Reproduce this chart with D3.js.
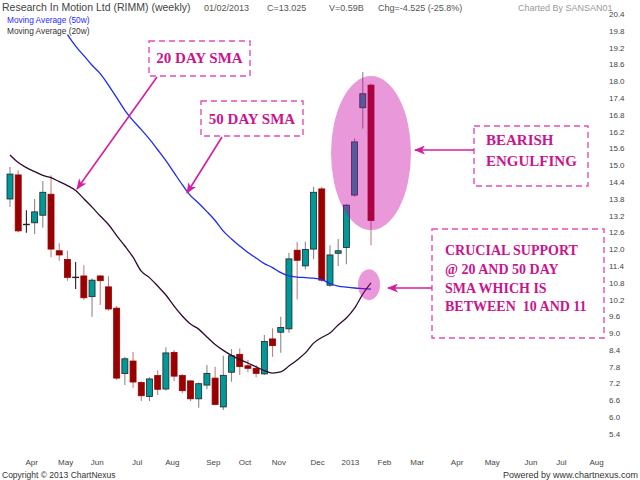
<!DOCTYPE html>
<html><head><meta charset="utf-8">
<script src="https://cdn.jsdelivr.net/npm/d3@7"></script>
<style>body{margin:0;background:#fff}svg{display:block}</style>
</head><body>
<svg id="c" width="640" height="480"></svg>
<script>
// ---- data (weekly RIMM) ----
const opens  = [13.79,14.65,12.87,12.94,13.21,13.96,11.94,11.63,10.98,11.04,10.30,11.04,10.65,9.89,7.55,8.00,7.23,6.73,7.48,7.00,8.31,7.48,7.29,6.65,7.14,7.39,6.36,7.60,8.24,7.83,7.74,7.54,8.79,9.03,9.15,11.96,11.40,12.00,14.15,10.71,11.85,12.06,13.93,17.05,17.86];
const highs  = [14.93,14.82,13.39,13.79,14.43,14.64,12.21,11.94,11.54,11.42,10.96,11.07,11.03,9.97,8.15,8.32,7.28,7.42,7.67,8.49,8.39,7.54,7.32,7.23,7.86,7.80,8.19,8.43,8.45,8.04,7.86,8.93,9.17,9.58,11.87,12.26,12.26,14.23,14.23,12.14,12.36,13.61,15.95,18.33,17.92];
const lows   = [13.50,12.60,12.58,12.54,12.76,11.71,11.58,10.87,10.57,10.18,9.58,10.00,9.80,7.32,7.14,7.04,6.57,6.57,6.79,6.95,7.29,6.85,6.57,6.33,6.99,6.42,6.25,7.26,7.50,7.60,7.42,7.50,8.15,8.30,9.01,10.20,11.27,11.64,10.83,10.65,11.40,11.46,13.87,16.31,12.14];
const closes = [14.68,12.65,12.89,13.33,14.03,12.00,11.79,10.99,11.00,10.26,10.89,10.87,9.86,7.39,8.08,7.25,6.76,7.36,6.99,8.29,7.46,6.94,6.65,7.19,7.56,6.45,7.49,8.19,7.80,7.74,7.56,8.70,8.55,9.20,11.65,11.60,11.99,14.03,10.89,11.79,11.94,13.57,15.83,17.55,13.025];
const sma20  = [15.36,15.09,14.91,14.77,14.63,14.55,14.41,14.27,14.09,13.80,13.50,13.18,12.88,12.48,12.11,11.71,11.21,10.98,10.68,10.36,9.96,9.61,9.32,9.14,8.86,8.59,8.38,8.20,8.05,7.93,7.79,7.66,7.57,7.61,7.82,8.04,8.29,8.64,8.84,9.00,9.29,9.54,9.89,10.39,10.79];
const sma50  = [null,null,null,null,null,null,null,19.66,19.25,18.91,18.57,18.27,17.86,17.41,16.96,16.59,16.27,15.93,15.55,15.16,14.73,14.30,13.91,13.64,13.34,13.02,12.64,12.36,12.11,11.88,11.68,11.48,11.34,11.16,11.04,11.00,10.98,10.96,10.91,10.77,10.68,10.64,10.61,10.59,10.57];
const tickLabels = ["Apr","May","Jun","Jul","Aug","Sep","Oct","Nov","Dec","2013","Feb","Mar","Apr","May","Jun","Jul","Aug"];
const tickDateStr = ["2012-04-17","2012-05-16","2012-06-12","2012-07-16","2012-08-15","2012-09-19","2012-10-16","2012-11-14","2012-12-17","2013-01-14","2013-02-12","2013-03-12","2013-04-15","2013-05-15","2013-06-17","2013-07-13","2013-08-12"];
const yTicks = [5.4,6.0,6.6,7.2,7.8,8.4,9.0,9.6,10.2,10.8,11.4,12.0,12.6,13.2,13.8,14.4,15.0,15.6,16.2,16.8,17.4,18.0,18.6,19.2,19.8,20.4];

const weeks = d3.timeFriday.range(new Date(2012,2,30), new Date(2013,1,2));
const parse = d3.timeParse("%Y-%m-%d");
const tickDates = tickDateStr.map(parse);
const candles = weeks.map((d,i)=>({d, o:opens[i], h:highs[i], l:lows[i], c:closes[i]}));

const svg = d3.select("#c");
const x = d3.scaleTime().domain([weeks[0], weeks[weeks.length-1]]).range([10, 371]);
const y = d3.scaleLinear().domain([5.4, 20.4]).range([433.8, 14]);

const TEAL="#009999", RED="#990000", MAG="#c8158e", DASH="#e050b8", ARROW="#d41ea2";

// axes
const ya = svg.append("g").attr("transform","translate(607,0)")
  .call(d3.axisRight(y).tickValues(yTicks).tickFormat(d3.format(".1f")).tickSize(0).tickPadding(2));
ya.select(".domain").remove();
ya.selectAll("text").attr("font-family","Liberation Sans, Arial").attr("font-size","8px").attr("fill","#444");

const xa = svg.append("g").attr("transform","translate(0,456)")
  .call(d3.axisBottom(x).tickValues(tickDates).tickFormat((d,i)=>tickLabels[i]).tickSize(0).tickPadding(3));
xa.select(".domain").remove();
xa.selectAll("text").attr("font-family","Liberation Sans, Arial").attr("font-size","8px").attr("fill","#444");

// candles
const cg = svg.append("g");
const isDoji = d => Math.abs(d.c-d.o) < 0.05;
cg.selectAll("line.w").data(candles).join("line")
  .attr("x1",d=>x(d.d)).attr("x2",d=>x(d.d))
  .attr("y1",d=>y(d.h)).attr("y2",d=>y(d.l))
  .attr("stroke",d=> isDoji(d) ? "#222" : (d.c>=d.o ? "#8a8a8a" : "#c48080"))
  .attr("stroke-width",1.1);
cg.selectAll("rect.b").data(candles).join("rect")
  .attr("x",d=>x(d.d)-3).attr("width",6)
  .attr("y",d=>y(Math.max(d.o,d.c)))
  .attr("height",d=>Math.max(Math.abs(y(d.o)-y(d.c)),0.6))
  .attr("fill",d=>d.c>=d.o ? TEAL : RED)
  .attr("stroke",d=>d.c>=d.o ? "#222" : RED)
  .attr("stroke-width",0.8);

// moving averages
const line = d3.line().defined(v=>v!=null).x((v,i)=>x(weeks[i])).y(v=>y(v)).curve(d3.curveMonotoneX);
svg.append("path").attr("d",line(sma50)).attr("fill","none").attr("stroke","#1a2cf0").attr("stroke-width",1.3);
svg.append("path").attr("d",line(sma20)).attr("fill","none").attr("stroke","#2e0a30").attr("stroke-width",1.3);

// highlight ellipses
svg.append("ellipse").attr("cx",x(weeks[44])).attr("cy",y(15.43)).attr("rx",40).attr("ry",77)
  .attr("fill","rgb(200,0,160)").attr("fill-opacity",0.4);
svg.append("ellipse").attr("cx",x(weeks[44])-2).attr("cy",y(10.73)).attr("rx",11).attr("ry",15.5)
  .attr("fill","rgb(200,0,160)").attr("fill-opacity",0.4);

// arrow marker
svg.append("defs").append("marker").attr("id","ah").attr("markerUnits","userSpaceOnUse")
  .attr("markerWidth",11).attr("markerHeight",9).attr("refX",10).attr("refY",4.5).attr("orient","auto")
  .append("path").attr("d","M0,0 L11,4.5 L0,9 L3,4.5 z").attr("fill",ARROW);

// annotation boxes
const boxes = [
  {x:149,y:41,w:101,h:35},
  {x:201,y:101,w:102,h:35},
  {x:474,y:126,w:114,h:60},
  {x:432,y:229,w:172,h:109}
];
svg.selectAll("rect.ann").data(boxes).join("rect")
  .attr("x",d=>d.x).attr("y",d=>d.y).attr("width",d=>d.w).attr("height",d=>d.h)
  .attr("fill","none").attr("stroke",DASH).attr("stroke-width",1.4).attr("stroke-dasharray","6,4");

const arrows = [
  [157,77,77,189],
  [222,137,187,193],
  [474,150,415,150],
  [432,288,388,288]
];
svg.selectAll("line.arr").data(arrows).join("line")
  .attr("x1",d=>d[0]).attr("y1",d=>d[1]).attr("x2",d=>d[2]).attr("y2",d=>d[3])
  .attr("stroke",ARROW).attr("stroke-width",1.6).attr("marker-end","url(#ah)");

const annTexts = [
  {t:"20 DAY SMA", x:199.5, y:63, a:"middle", s:15},
  {t:"50 DAY SMA", x:252, y:123.5, a:"middle", s:15},
  {t:"BEARISH", x:486, y:145, a:"start", s:15},
  {t:"ENGULFING", x:486, y:166, a:"start", s:15},
  {t:"CRUCIAL SUPPORT", x:445, y:255, a:"start", s:14},
  {t:"@ 20 AND 50 DAY", x:445, y:274, a:"start", s:14},
  {t:"SMA WHICH IS", x:445, y:292.5, a:"start", s:14},
  {t:"BETWEEN\u00a0 10 AND 11", x:445, y:311, a:"start", s:14}
];
svg.selectAll("text.ann").data(annTexts).join("text")
  .attr("x",d=>d.x).attr("y",d=>d.y).attr("text-anchor",d=>d.a)
  .attr("font-family","Liberation Serif, Times New Roman, serif").attr("font-weight","bold")
  .attr("font-size",d=>d.s+"px").attr("fill",MAG).text(d=>d.t);

// header & legend
const hdr = [
  {t:"Research In Motion Ltd (RIMM) (weekly)", x:2, s:10.5, c:"#444"},
  {t:"01/02/2013", x:204, s:9, c:"#555"},
  {t:"C=13.025", x:267, s:9, c:"#555"},
  {t:"V=0.59B", x:329, s:9, c:"#555"},
  {t:"Chg=-4.525 (-25.8%)", x:378, s:9, c:"#555"},
  {t:"Charted By SANSAN01", x:518, s:9, c:"#999"}
];
svg.selectAll("text.hdr").data(hdr).join("text")
  .attr("x",d=>d.x).attr("y",11).attr("font-family","Liberation Sans, Arial")
  .attr("font-size",d=>d.s+"px").attr("fill",d=>d.c).text(d=>d.t);

svg.append("text").attr("x",7).attr("y",23).attr("font-family","Liberation Sans, Arial").attr("font-size","8.3px").attr("fill","#2a2aff").text("Moving Average (50w)");
svg.append("text").attr("x",7).attr("y",34).attr("font-family","Liberation Sans, Arial").attr("font-size","8.3px").attr("fill","#333").text("Moving Average (20w)");

svg.append("text").attr("x",2).attr("y",478).attr("font-family","Liberation Sans, Arial").attr("font-size","8.5px").attr("fill","#333").text("Copyright \u00a9 2013 ChartNexus");
svg.append("text").attr("x",638).attr("y",478).attr("text-anchor","end").attr("font-family","Liberation Sans, Arial").attr("font-size","9px").attr("fill","#333").text("Powered by www.chartnexus.com");
</script>
</body></html>
